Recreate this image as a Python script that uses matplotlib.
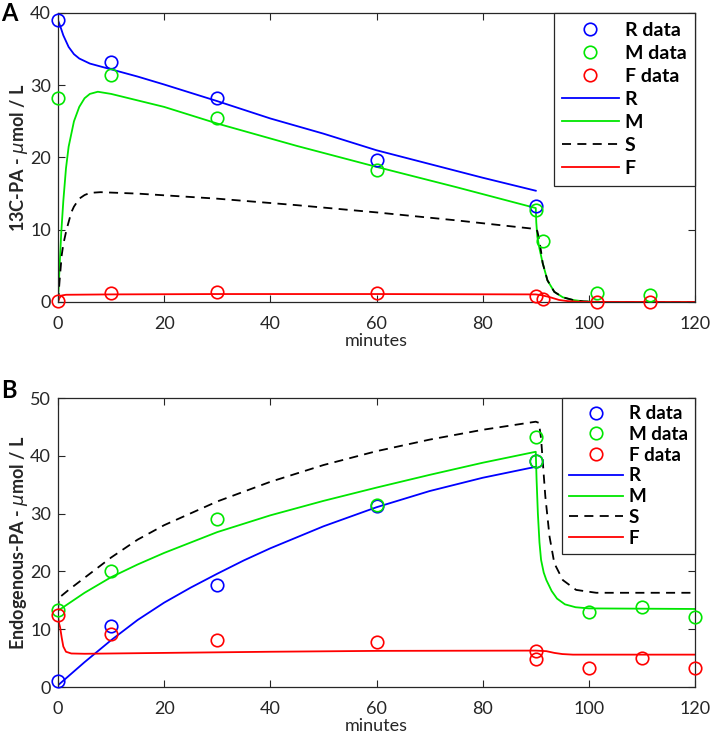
import matplotlib
matplotlib.use("Agg")
import matplotlib.pyplot as plt

plt.rcParams['font.family'] = ['Lato', 'DejaVu Sans']
plt.rcParams['mathtext.fontset'] = 'dejavusans'

# ---------------- Panel A data (13C-PA) ----------------
a_R_t = [0, 10, 30, 60, 90]
a_R_v = [39.0, 33.2, 28.2, 19.7, 13.3]
a_M_t = [0, 10, 30, 60, 90, 91.3, 101.5, 111.5]
a_M_v = [28.3, 31.4, 25.5, 18.3, 12.7, 8.4, 1.3, 0.95]
a_F_t = [0, 10, 30, 60, 90, 91.3, 101.5, 111.5]
a_F_v = [0.2, 1.25, 1.35, 1.3, 0.85, 0.37, 0.05, 0.05]

# model curves panel A
a_Rc_t = [0, 0.5, 1, 2, 3, 4, 6, 10, 15, 20, 30, 40, 50, 60, 70, 80, 90]
a_Rc_v = [39.0, 38.0, 36.9, 35.3, 34.3, 33.7, 33.0, 32.2, 31.2, 30.1, 27.8, 25.4, 23.3, 21.0, 19.1, 17.2, 15.4]
a_Mc_t = [0, 0.3, 0.6, 1, 1.5, 2, 3, 4, 5, 6, 7.5, 10, 15, 20, 30, 45, 60, 75, 90,
          90.1, 90.3, 90.7, 91.3, 92.2, 93.5, 95.1, 97, 99, 102, 120]
a_Mc_v = [0, 5, 9.5, 14, 18.5, 21.5, 25, 27, 28.2, 28.8, 29.1, 28.8, 27.9, 27.0, 24.7, 21.6, 18.7, 15.9, 13.0,
          11.0, 9.0, 7.4, 5.4, 3.0, 1.4, 0.65, 0.28, 0.08, 0.01, 0]
a_Sc_t = [0, 0.3, 0.7, 1, 1.6, 2.5, 3, 4, 5, 6, 8, 15, 30, 45, 60, 75, 90,
          90.3, 90.6, 91.0, 91.3, 92.2, 93.5, 95.1, 97, 99, 102, 120]
a_Sc_v = [0, 3, 6.5, 8, 10, 12.4, 13.2, 14.3, 14.8, 15.1, 15.2, 15.0, 14.3, 13.4, 12.4, 11.3, 10.1,
          9.8, 8.8, 7.0, 5.4, 3.0, 1.4, 0.65, 0.28, 0.08, 0.01, 0]
a_Fc_t = [0, 0.3, 0.7, 1.5, 10, 30, 60, 90, 91, 92.5, 94.4, 96, 98, 100, 120]
a_Fc_v = [0, 0.6, 0.9, 1.0, 1.05, 1.1, 1.1, 1.05, 0.95, 0.7, 0.28, 0.12, 0.04, 0.01, 0]

# ---------------- Panel B data (Endogenous-PA) ----------------
b_R_t = [0, 10, 30, 60, 90]
b_R_v = [1.0, 10.6, 17.6, 31.4, 39.1]
b_M_t = [0, 10, 30, 60, 90, 90, 100, 110, 120]
b_M_v = [13.3, 20.1, 29.1, 31.5, 43.2, 39.1, 12.9, 13.9, 12.1]
b_F_t = [0, 10, 30, 60, 90, 90, 100, 110, 120]
b_F_v = [12.5, 9.2, 8.2, 7.7, 6.3, 4.8, 3.3, 5.1, 3.3]

b_Rc_t = [0, 5, 10, 15, 20, 25, 30, 35, 40, 50, 60, 70, 80, 90]
b_Rc_v = [0.3, 4.3, 8.1, 11.6, 14.6, 17.2, 19.6, 21.9, 24.0, 27.8, 31.1, 33.9, 36.2, 38.1]
b_Mc_t = [0, 5, 10, 15, 20, 30, 40, 50, 60, 70, 80, 90,
          90.15, 90.4, 90.7, 91.0, 91.5, 92, 93, 94, 95.5, 97.5, 100, 120]
b_Mc_v = [13.2, 16.3, 19.0, 21.2, 23.2, 26.8, 29.7, 32.2, 34.5, 36.7, 38.8, 40.7,
          36.0, 30.0, 25.0, 22.0, 19.8, 18.5, 16.6, 15.3, 14.3, 13.8, 13.6, 13.5]
b_Sc_t = [0, 0.15, 2, 5, 10, 15, 20, 30, 40, 50, 60, 70, 80, 90,
          90.6, 91.0, 91.4, 91.8, 92.6, 93.5, 95.1, 97.6, 101.4, 120]
b_Sc_v = [13.3, 15.4, 16.8, 18.9, 22.4, 25.5, 28.0, 32.1, 35.5, 38.4, 40.8, 42.8, 44.5, 45.9,
          45.7, 43.0, 38.0, 33.0, 26.0, 21.4, 18.5, 16.8, 16.3, 16.3]
b_Fc_t = [0, 0.2, 0.4, 0.7, 1, 1.5, 2.5, 5, 20, 40, 60, 90, 92, 93.5, 95, 97, 120]
b_Fc_v = [12.3, 11.0, 10.3, 8.5, 7.0, 6.1, 5.8, 5.75, 5.9, 6.1, 6.25, 6.3, 6.2, 5.9, 5.7, 5.6, 5.6]

xticks = [0, 20, 40, 60, 80, 100, 120]
yticks_a = [0, 10, 20, 30, 40]
yticks_b = [0, 10, 20, 30, 40, 50]

BLUE = '#0000ff'
GREEN = '#00e600'
RED = '#ff0000'
TXT = '#262626'

fig = plt.figure(figsize=(7.11, 7.38), dpi=100)
axA = fig.add_axes([0.0816, 0.5908, 0.8959, 0.3916])
axB = fig.add_axes([0.0816, 0.0691, 0.8959, 0.3916])

mk = dict(marker='o', linestyle='none', markerfacecolor='none', markersize=9,
          markeredgewidth=1.2, clip_on=False, zorder=4)
lw = 1.3


def draw(ax, d, ylabel, yticks, ylim, legkw):
    (Rt, Rv, Mt, Mv, Ft, Fv, Rct, Rcv, Mct, Mcv, Sct, Scv, Fct, Fcv) = d
    h1, = ax.plot(Rt, Rv, color=BLUE, label='R data', **mk)
    h2, = ax.plot(Mt, Mv, color=GREEN, label='M data', **mk)
    h3, = ax.plot(Ft, Fv, color=RED, label='F data', **mk)
    h4, = ax.plot(Rct, Rcv, color=BLUE, lw=lw, label='R')
    h5, = ax.plot(Mct, Mcv, color=GREEN, lw=lw, label='M')
    h6, = ax.plot(Sct, Scv, color='black', lw=lw, linestyle=(0, (5, 3.5)), label='S')
    h7, = ax.plot(Fct, Fcv, color=RED, lw=lw, label='F')
    ax.set_xlim(0, 120)
    ax.set_ylim(*ylim)
    ax.set_xticks(xticks)
    ax.set_yticks(yticks)
    ax.tick_params(direction='in', top=True, right=True, labelsize=13, colors=TXT,
                   length=5, width=0.8)
    ax.tick_params(axis='x', pad=10)
    ax.tick_params(axis='y', pad=5)
    for s in ax.spines.values():
        s.set_color('#262626')
        s.set_linewidth(0.9)
    ax.set_xlabel('minutes', fontsize=13, color=TXT, labelpad=1)
    ax.set_ylabel(ylabel, fontsize=13, fontweight='bold', color=TXT)
    leg = ax.legend(handles=[h1, h2, h3, h4, h5, h6, h7], loc='upper right',
                    frameon=True, fancybox=False, framealpha=1, edgecolor='#262626',
                    borderaxespad=0, **legkw)
    leg.get_frame().set_linewidth(0.9)
    leg.set_zorder(5)


draw(axA, (a_R_t, a_R_v, a_M_t, a_M_v, a_F_t, a_F_v, a_Rc_t, a_Rc_v, a_Mc_t, a_Mc_v,
           a_Sc_t, a_Sc_v, a_Fc_t, a_Fc_v), r'13C-PA - $\mu$mol / L', yticks_a, (0, 40),
     dict(prop={'weight': 'bold', 'size': 14}, handlelength=2.9, handletextpad=0.3,
          labelspacing=0.31, borderpad=0.45))
draw(axB, (b_R_t, b_R_v, b_M_t, b_M_v, b_F_t, b_F_v, b_Rc_t, b_Rc_v, b_Mc_t, b_Mc_v,
           b_Sc_t, b_Sc_v, b_Fc_t, b_Fc_v), r'Endogenous-PA - $\mu$mol / L', yticks_b, (0, 50),
     dict(prop={'weight': 'bold', 'size': 13.5}, handlelength=2.9, handletextpad=0.3,
          labelspacing=0.2, borderpad=0.38))

for ax in (axA, axB):
    ax.yaxis.set_label_coords(-0.044, 0.5)

fig.text(0.002, 0.997, 'A', fontsize=17, fontweight='bold', va='top', ha='left')
fig.text(0.002, 0.487, 'B', fontsize=17, fontweight='bold', va='top', ha='left')

fig.savefig('out.png', dpi=100)
